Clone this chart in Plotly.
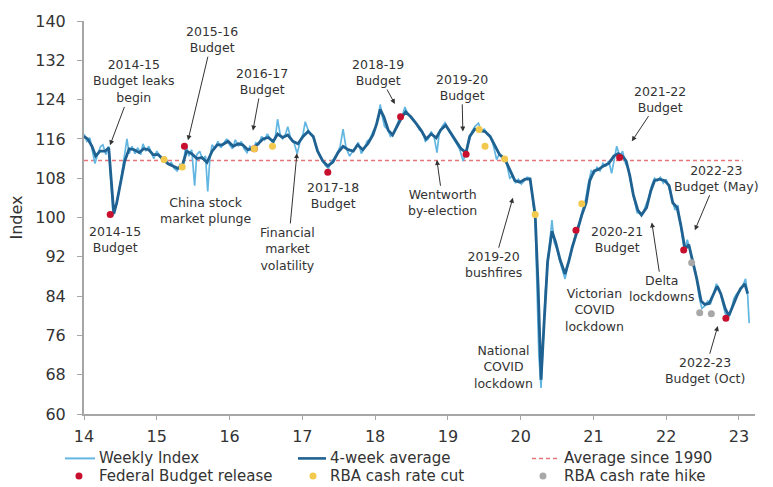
import plotly.graph_objects as go

# Weekly consumer confidence index (x = year, two-digit style: 14 = Jan 2014)
weekly_year = [
    14.00, 14.04, 14.08, 14.12, 14.15, 14.19, 14.23, 14.26, 14.30, 14.34, 14.37, 14.40, 14.43, 14.47,
    14.51, 14.55, 14.59, 14.62, 14.66, 14.70, 14.74, 14.78, 14.81, 14.85, 14.89, 14.93, 14.96, 15.00,
    15.04, 15.08, 15.12, 15.16, 15.20, 15.24, 15.28, 15.32, 15.36, 15.40, 15.44, 15.48, 15.52, 15.55,
    15.59, 15.63, 15.67, 15.70, 15.73, 15.76, 15.80, 15.84, 15.88, 15.92, 15.96, 16.00, 16.04, 16.08,
    16.12, 16.16, 16.20, 16.24, 16.28, 16.32, 16.36, 16.40, 16.44, 16.48, 16.52, 16.56, 16.60, 16.63,
    16.66, 16.70, 16.73, 16.77, 16.80, 16.84, 16.88, 16.93, 16.97, 17.01, 17.04, 17.08, 17.12, 17.16,
    17.20, 17.24, 17.28, 17.32, 17.36, 17.40, 17.44, 17.48, 17.52, 17.56, 17.60, 17.65, 17.69, 17.73,
    17.77, 17.81, 17.85, 17.89, 17.93, 17.97, 18.01, 18.05, 18.07, 18.10, 18.13, 18.17, 18.21, 18.25,
    18.29, 18.33, 18.37, 18.41, 18.45, 18.49, 18.53, 18.57, 18.61, 18.65, 18.69, 18.73, 18.77, 18.81,
    18.85, 18.88, 18.92, 18.96, 19.00, 19.04, 19.08, 19.12, 19.16, 19.21, 19.25, 19.29, 19.33, 19.37,
    19.42, 19.46, 19.50, 19.54, 19.58, 19.62, 19.67, 19.71, 19.75, 19.80, 19.85, 19.89, 19.93, 19.97,
    20.01, 20.05, 20.09, 20.13, 20.17, 20.20, 20.22, 20.25, 20.28, 20.31, 20.34, 20.38, 20.43, 20.46,
    20.50, 20.54, 20.58, 20.61, 20.65, 20.69, 20.73, 20.77, 20.81, 20.85, 20.89, 20.93, 20.97, 21.01,
    21.05, 21.09, 21.13, 21.17, 21.21, 21.25, 21.29, 21.32, 21.36, 21.40, 21.44, 21.48, 21.52, 21.56,
    21.60, 21.64, 21.68, 21.72, 21.76, 21.80, 21.84, 21.88, 21.92, 21.96, 22.00, 22.04, 22.08, 22.12,
    22.16, 22.19, 22.22, 22.25, 22.29, 22.33, 22.37, 22.41, 22.45, 22.49, 22.53, 22.57, 22.61, 22.65,
    22.69, 22.73, 22.77, 22.81, 22.85, 22.89, 22.93, 22.97, 23.01, 23.05, 23.09, 23.12, 23.14,
]
weekly_index = [
    117.0, 115.5, 116.2, 113.5, 111.0, 113.0, 114.5, 114.8, 112.8, 114.5, 108.0, 100.3, 102.0, 104.5,
    108.0, 112.0, 116.0, 113.0, 114.5, 113.0, 114.2, 112.8, 115.0, 113.5, 114.5, 113.0, 112.0, 113.5,
    112.5, 111.5, 112.2, 110.8, 111.2, 110.0, 109.5, 110.8, 110.0, 115.0, 112.5, 113.8, 106.5, 112.8,
    113.5, 111.8, 112.5, 105.3, 112.0, 114.8, 114.0, 115.5, 114.2, 115.0, 116.0, 114.8, 114.0, 115.8,
    114.5, 115.5, 114.0, 113.2, 114.5, 113.8, 115.2, 114.8, 116.5, 115.8, 117.0, 116.0, 115.0, 116.5,
    120.0, 116.5, 116.0, 117.0, 118.5, 116.2, 115.5, 113.0, 115.5, 117.0, 119.5, 117.8, 117.0, 116.0,
    113.8, 112.5, 111.5, 110.5, 110.0, 111.5, 112.0, 113.0, 114.5, 118.0, 114.2, 112.5, 113.5, 114.5,
    115.3, 113.0, 114.0, 115.5, 116.0, 117.5, 118.5, 121.0, 123.0, 120.5, 118.5, 118.0, 116.5, 117.0,
    118.5, 120.0, 120.5, 122.5, 121.0, 120.5, 119.8, 119.0, 117.8, 117.5, 115.5, 116.0, 117.5, 116.5,
    113.2, 117.0, 118.5, 119.3, 118.0, 117.0, 116.0, 115.0, 114.0, 111.5, 113.5, 116.0, 117.5, 118.5,
    119.2, 117.5, 118.0, 117.0, 116.5, 115.0, 111.8, 113.0, 112.0, 111.5, 108.0, 108.5, 107.0, 107.8,
    106.8, 107.5, 108.2, 108.0, 103.5, 99.5, 88.0, 72.0, 65.3, 74.0, 85.0, 92.0, 99.5, 95.0,
    93.5, 91.0, 89.0, 87.5, 90.5, 92.5, 95.0, 97.5, 99.0, 101.5, 103.5, 107.0, 109.5, 109.0,
    110.2, 109.5, 111.0, 110.5, 111.5, 109.0, 112.0, 114.5, 112.5, 113.5, 111.0, 110.0, 106.5, 103.5,
    101.0, 100.8, 101.0, 102.5, 104.0, 106.5, 108.0, 107.5, 108.2, 107.0, 107.8, 106.0, 103.5, 101.5,
    102.5, 99.0, 96.5, 93.0, 95.5, 93.0, 90.5, 88.5, 84.0, 81.5, 82.0, 83.0, 82.5, 84.5,
    86.5, 85.5, 83.0, 80.5, 79.5, 81.0, 83.5, 84.5, 85.0, 86.0, 87.5, 84.0, 78.5,
]

# 4-week average
avg4_year = [
    14.00, 14.05, 14.11, 14.16, 14.22, 14.29, 14.34, 14.38, 14.41, 14.45, 14.51, 14.56, 14.62, 14.69,
    14.76, 14.82, 14.89, 14.95, 15.02, 15.09, 15.15, 15.22, 15.29, 15.35, 15.41, 15.48, 15.55, 15.62,
    15.69, 15.76, 15.83, 15.90, 15.98, 16.05, 16.12, 16.18, 16.25, 16.32, 16.39, 16.46, 16.53, 16.60,
    16.66, 16.73, 16.80, 16.87, 16.94, 17.01, 17.08, 17.15, 17.21, 17.28, 17.35, 17.42, 17.49, 17.56,
    17.63, 17.70, 17.76, 17.83, 17.90, 17.97, 18.02, 18.07, 18.12, 18.18, 18.24, 18.31, 18.37, 18.42,
    18.49, 18.56, 18.63, 18.70, 18.77, 18.84, 18.90, 18.97, 19.04, 19.11, 19.18, 19.25, 19.30, 19.37,
    19.44, 19.51, 19.58, 19.65, 19.71, 19.78, 19.85, 19.92, 19.99, 20.06, 20.13, 20.17, 20.20, 20.24,
    20.28, 20.32, 20.37, 20.43, 20.48, 20.54, 20.61, 20.66, 20.71, 20.78, 20.84, 20.90, 20.95, 21.01,
    21.07, 21.14, 21.21, 21.28, 21.34, 21.40, 21.45, 21.50, 21.55, 21.61, 21.66, 21.73, 21.79, 21.84,
    21.91, 21.98, 22.04, 22.09, 22.15, 22.20, 22.26, 22.31, 22.37, 22.42, 22.48, 22.53, 22.59, 22.64,
    22.70, 22.75, 22.81, 22.86, 22.91, 22.97, 23.02, 23.08, 23.12,
]
avg4_index = [
    116.5, 116.0, 114.5, 112.5, 113.5, 113.5, 114.2, 105.5, 100.8, 103.0, 107.5, 111.5, 114.0, 113.8,
    113.2, 114.0, 113.8, 112.8, 112.8, 111.8, 111.0, 110.5, 110.0, 110.5, 113.5, 113.0, 112.0, 112.2,
    111.2, 113.5, 114.8, 114.8, 115.5, 114.5, 115.0, 114.8, 113.8, 114.0, 115.0, 116.0, 116.3, 115.5,
    117.0, 116.3, 116.8, 115.5, 115.0, 116.5, 117.5, 116.5, 113.5, 111.5, 110.5, 111.3, 113.2, 114.5,
    113.8, 113.5, 114.8, 113.8, 115.0, 116.8, 119.0, 122.0, 120.5, 117.8, 116.8, 118.8, 120.5, 121.5,
    120.5, 119.2, 117.8, 116.0, 117.0, 116.2, 117.8, 118.8, 117.2, 115.5, 114.0, 113.2, 116.5, 118.0,
    117.8, 117.5, 116.5, 114.5, 112.8, 112.0, 109.8, 107.5, 107.2, 107.8, 107.8, 104.0, 100.5, 86.0,
    67.0, 78.0, 91.0, 97.2, 95.0, 91.5, 88.5, 91.0, 94.0, 97.4, 100.5, 103.0, 107.5, 109.5,
    109.8, 110.5, 111.0, 112.5, 113.0, 112.5, 111.5, 108.5, 104.5, 101.5, 100.5, 102.0, 105.5, 107.5,
    107.8, 107.5, 106.5, 103.0, 102.0, 98.5, 93.5, 94.5, 91.0, 87.5, 83.0, 82.3, 82.5, 84.0,
    86.0, 84.5, 81.5, 80.0, 82.0, 84.0, 85.5, 86.5, 84.5,
]

# Long-run average
avg_1990_span = [14.0, 23.05]
avg_1990_level = 111.6

# Event markers
budget_year = [14.36, 15.38, 16.34, 17.35, 18.35, 19.25, 20.76, 21.36, 22.24, 22.82]
budget_index = [100.6, 114.5, 114.0, 109.2, 120.5, 112.9, 97.4, 112.2, 93.4, 79.5]

cut_year = [15.10, 15.35, 16.34, 16.59, 19.43, 19.51, 19.78, 20.20, 20.84]
cut_index = [111.8, 110.3, 114.0, 114.5, 117.9, 114.5, 111.9, 100.6, 102.8]

hike_year = [22.35, 22.46, 22.62]
hike_index = [90.8, 80.6, 80.4]

x_ticks = [14, 15, 16, 17, 18, 19, 20, 21, 22, 23]
x_tick_text = ["14", "15", "16", "17", "18", "19", "20", "21", "22", "23"]
y_ticks = [60, 68, 76, 84, 92, 100, 108, 116, 124, 132, 140]

FONT = "DejaVu Sans"
TEXT = "#333333"

C_WEEKLY = "#62b6e2"
C_AVG4 = "#1f6291"
C_AVG1990 = "#e8757a"
C_BUDGET = "#c8102e"
C_CUT = "#f2c94c"
C_HIKE = "#a8a8a8"

fig = go.Figure()

fig.add_trace(go.Scatter(
    x=avg_1990_span, y=[avg_1990_level, avg_1990_level], mode="lines",
    name="Average since 1990", line=dict(color=C_AVG1990, width=1.5, dash="4px,3px"),
))
fig.add_trace(go.Scatter(
    x=weekly_year, y=weekly_index, mode="lines", name="Weekly Index",
    line=dict(color=C_WEEKLY, width=1.7),
))
fig.add_trace(go.Scatter(
    x=avg4_year, y=avg4_index, mode="lines", name="4-week average",
    line=dict(color=C_AVG4, width=2.8),
))
fig.add_trace(go.Scatter(
    x=budget_year, y=budget_index, mode="markers", name="Federal Budget release",
    marker=dict(color=C_BUDGET, size=7),
))
fig.add_trace(go.Scatter(
    x=cut_year, y=cut_index, mode="markers", name="RBA cash rate cut",
    marker=dict(color=C_CUT, size=7),
))
fig.add_trace(go.Scatter(
    x=hike_year, y=hike_index, mode="markers", name="RBA cash rate hike",
    marker=dict(color=C_HIKE, size=7),
))

# Event annotations: (text, text x, text y, arrow tip x, arrow tip y)
arrow_notes = [
    ("2014-15<br>Budget leaks<br>begin", 14.687, 127.7, 14.357, 114.7),
    ("2015-16<br>Budget", 15.758, 136.2, 15.429, 115.7),
    ("2016-17<br>Budget", 16.445, 127.7, 16.321, 117.7),
    ("2018-19<br>Budget", 18.038, 129.5, 18.272, 123.1),
    ("2019-20<br>Budget", 19.192, 126.5, 19.206, 117.5),
    ("Financial<br>market<br>volatility", 16.802, 93.6, 16.926, 113.1),
    ("Wentworth<br>by-election", 18.931, 103.0, 18.849, 111.7),
    ("2019-20<br>bushfires", 19.632, 90.4, 19.893, 104.0),
    ("Delta<br>lockdowns", 21.94, 85.5, 21.802, 99.0),
    ("2021-22<br>Budget", 21.912, 124.1, 21.527, 115.5),
    ("2022-23<br>Budget (May)", 22.695, 108.0, 22.393, 97.4),
    ("2022-23<br>Budget (Oct)", 22.53, 68.8, 22.709, 77.9),
]
plain_notes = [
    ("2014-15<br>Budget", 14.426, 95.6),
    ("2017-18<br>Budget", 17.42, 104.4),
    ("China stock<br>market plunge", 15.676, 101.4),
    ("National<br>COVID<br>lockdown", 19.769, 69.6),
    ("Victorian<br>COVID<br>lockdown", 21.019, 81.1),
    ("2020-21<br>Budget", 21.321, 95.6),
]

annotations = []
for text, tx, ty, hx, hy in arrow_notes:
    annotations.append(dict(
        text=text, x=hx, y=hy, ax=tx, ay=ty, xref="x", yref="y", axref="x", ayref="y",
        showarrow=True, arrowhead=2, arrowsize=1, arrowwidth=1, arrowcolor="#333333",
        font=dict(family=FONT, size=12.5, color=TEXT), align="center",
    ))
for text, tx, ty in plain_notes:
    annotations.append(dict(
        text=text, x=tx, y=ty, xref="x", yref="y", showarrow=False,
        font=dict(family=FONT, size=12.5, color=TEXT), align="center",
    ))

# Key below the axis: a 3 x 2 grid of swatches and labels (paper coordinates)
shapes = []
key_rows = [-0.113, -0.158]
line_keys = [
    ("Weekly Index", -0.0283, 0.0164, 0.0194, dict(color=C_WEEKLY, width=2)),
    ("4-week average", 0.3189, 0.3607, 0.3636, dict(color=C_AVG4, width=2.6)),
    ("Average since 1990", 0.6677, 0.7094, 0.7124, dict(color=C_AVG1990, width=1.5, dash="4px,3px")),
]
dot_keys = [
    ("Federal Budget release", -0.0075, 0.0194, C_BUDGET),
    ("RBA cash rate cut", 0.3413, 0.3636, C_CUT),
    ("RBA cash rate hike", 0.684, 0.7124, C_HIKE),
]
key_font = dict(family=FONT, size=15, color=TEXT)
for label, x0, x1, tx, line in line_keys:
    shapes.append(dict(type="line", xref="paper", yref="paper", x0=x0, x1=x1,
                       y0=key_rows[0], y1=key_rows[0], line=line))
    annotations.append(dict(text=label, x=tx, y=key_rows[0], xref="paper", yref="paper",
                            xanchor="left", yanchor="middle", showarrow=False, font=key_font))
for label, cx, tx, color in dot_keys:
    shapes.append(dict(type="circle", xref="paper", yref="paper",
                       xsizemode="pixel", ysizemode="pixel", xanchor=cx, yanchor=key_rows[1],
                       x0=-3.5, x1=3.5, y0=-3.5, y1=3.5,
                       fillcolor=color, line=dict(width=0)))
    annotations.append(dict(text=label, x=tx, y=key_rows[1], xref="paper", yref="paper",
                            xanchor="left", yanchor="middle", showarrow=False, font=key_font))

fig.update_layout(
    width=773, height=487,
    margin=dict(l=84, r=18, t=16, b=73),
    paper_bgcolor="white", plot_bgcolor="white",
    font=dict(family=FONT, color=TEXT),
    annotations=annotations,
    shapes=shapes,
    showlegend=False,
)
fig.update_xaxes(
    range=[14, 23.22], tickvals=x_ticks, ticktext=x_tick_text,
    showline=True, linecolor="#a6a6a6", linewidth=2, showgrid=False, zeroline=False,
    ticks="outside", ticklen=4, tickcolor="#a6a6a6", tickwidth=1,
    tickfont=dict(family=FONT, size=16, color=TEXT), ticklabelstandoff=3,
)
fig.update_yaxes(
    range=[60, 140], tickvals=y_ticks,
    showline=True, linecolor="#a6a6a6", linewidth=2, showgrid=False, zeroline=False,
    ticks="outside", ticklen=5, tickcolor="#a6a6a6", tickwidth=1,
    tickfont=dict(family=FONT, size=16, color=TEXT), ticklabelstandoff=8,
    title=dict(text="Index", font=dict(family=FONT, size=16, color=TEXT), standoff=9),
)

fig.write_html("out.html")
